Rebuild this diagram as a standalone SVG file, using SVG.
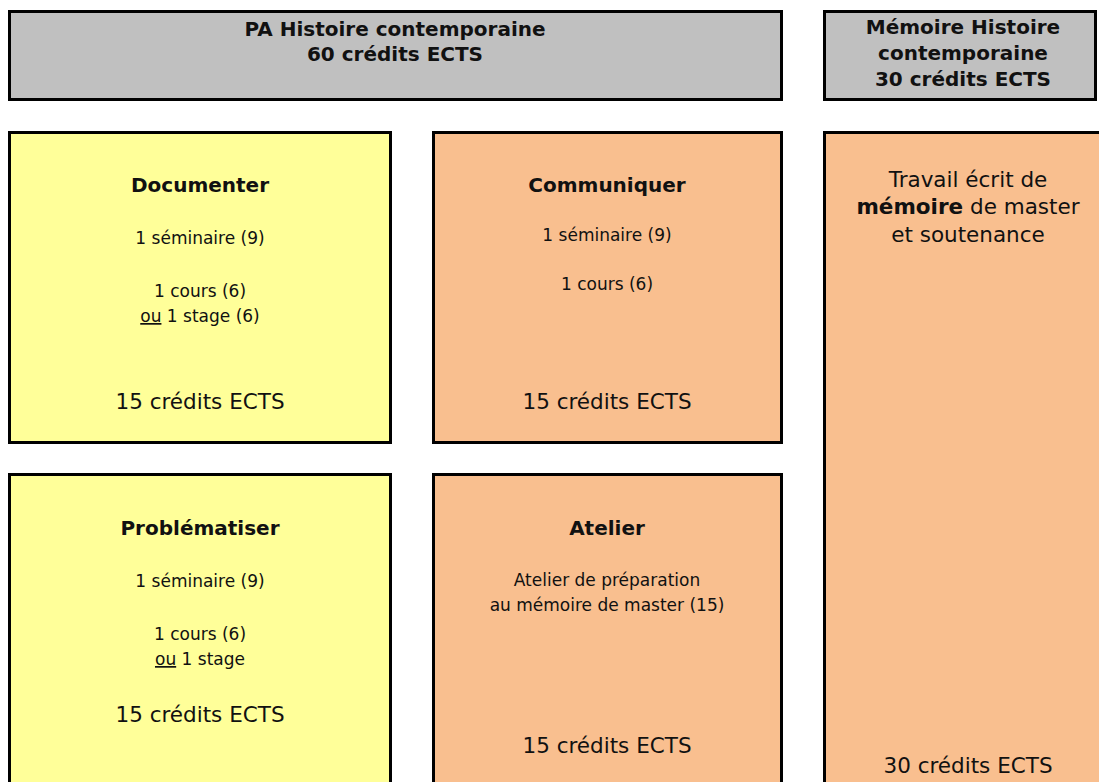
<svg xmlns="http://www.w3.org/2000/svg" width="1099" height="782" viewBox="0 0 1099 782">
<style>
.box{stroke:#000;stroke-width:3}
.gray{fill:#C0C0C0}
.yel{fill:#FFFF99}
.org{fill:#F9BF8F}
text{font-family:"DejaVu Sans","Liberation Sans",sans-serif;fill:#111;text-anchor:middle}
.h{font-weight:bold;font-size:20px}
.s{font-size:17px}
.b{font-size:21.5px}
.u{text-decoration:underline}
.bold{font-weight:bold}
</style>
<rect width="1099" height="782" fill="#fff"/>
<g id="connectors"></g>
<g id="pa-header">
<rect class="box gray" x="9.5" y="11.5" width="772" height="88"/>
<text class="h" x="395" y="36">PA Histoire contemporaine</text>
<text class="h" x="395" y="61">60 crédits ECTS</text>
</g>
<g id="memoire-header">
<rect class="box gray" x="824.5" y="11.5" width="271" height="88"/>
<text class="h" x="963" y="34">Mémoire Histoire</text>
<text class="h" x="963" y="60">contemporaine</text>
<text class="h" x="963" y="86">30 crédits ECTS</text>
</g>
<g id="documenter">
<rect class="box yel" x="9.5" y="132.5" width="381" height="310"/>
<text class="h" x="200" y="192">Documenter</text>
<text class="s" x="200" y="244">1 séminaire (9)</text>
<text class="s" x="200" y="297">1 cours (6)</text>
<text class="s" x="200" y="322"><tspan class="u">ou</tspan> 1 stage (6)</text>
<text class="b" x="200" y="409">15 crédits ECTS</text>
</g>
<g id="communiquer">
<rect class="box org" x="433.5" y="132.5" width="348" height="310"/>
<text class="h" x="607" y="192">Communiquer</text>
<text class="s" x="607" y="241">1 séminaire (9)</text>
<text class="s" x="607" y="290">1 cours (6)</text>
<text class="b" x="607" y="409">15 crédits ECTS</text>
</g>
<g id="problematiser">
<rect class="box yel" x="9.5" y="474.5" width="381" height="320"/>
<text class="h" x="200" y="535">Problématiser</text>
<text class="s" x="200" y="587">1 séminaire (9)</text>
<text class="s" x="200" y="640">1 cours (6)</text>
<text class="s" x="200" y="665"><tspan class="u">ou</tspan> 1 stage</text>
<text class="b" x="200" y="722">15 crédits ECTS</text>
</g>
<g id="atelier">
<rect class="box org" x="433.5" y="474.5" width="348" height="320"/>
<text class="h" x="607" y="535">Atelier</text>
<text class="s" x="607" y="586">Atelier de préparation</text>
<text class="s" x="607" y="611">au mémoire de master (15)</text>
<text class="b" x="607" y="753">15 crédits ECTS</text>
</g>
<g id="memoire">
<rect class="box org" x="824.5" y="132.5" width="300" height="662"/>
<text class="b" x="968" y="187">Travail écrit de</text>
<text class="b" x="968" y="214"><tspan class="bold">mémoire</tspan> de master</text>
<text class="b" x="968" y="242">et soutenance</text>
<text class="b" x="968" y="773">30 crédits ECTS</text>
</g>
</svg>
